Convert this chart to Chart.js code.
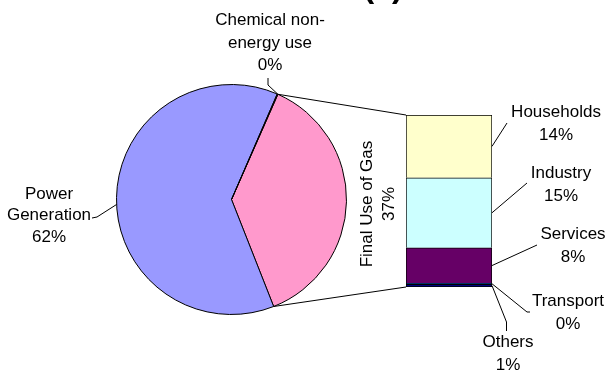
<!DOCTYPE html>
<html>
<head>
<meta charset="utf-8">
<script src="https://cdn.jsdelivr.net/npm/chart.js@4"></script>
<style>
  body { margin: 0; background: #fff; }
  #wrap { position: relative; width: 608px; height: 371px; }
  canvas { position: absolute; left: 0; top: 0; }
</style>
</head>
<body>
<div id="wrap">
  <canvas id="pie" width="608" height="371"></canvas>
  <canvas id="bar" width="608" height="371"></canvas>
</div>
<script>
// main pie: final use is the sum of the bar parts
const useLabels = ["Households", "Industry", "Services", "Transport", "Others"];
const useValues = [13.6, 15.2, 7.7, 0.2, 0.6];
const powerValue = 62.3;
const chemicalValue = 0.1;

const finalUse = useValues.reduce((a, b) => a + b, 0);
const pieLabels = ["Final Use of Gas", "Power Generation", "Chemical non-energy use"];
const pieValues = [finalUse, powerValue, chemicalValue];
const total = pieValues.reduce((a, b) => a + b, 0);

const pieColors = ["#FF99CC", "#9999FF", "#993366"];
const useColors = ["#FFFFCC", "#CCFFFF", "#660066", "#0066CC", "#000080"];

const FONT = '17px "Liberation Sans", Arial, sans-serif';
const pct = v => Math.round(v / total * 100) + "%";

const pieChart = new Chart(document.getElementById("pie"), {
  type: "pie",
  data: {
    labels: pieLabels,
    datasets: [{
      data: pieValues,
      backgroundColor: pieColors,
      borderColor: "#000",
      borderWidth: 1
    }]
  },
  options: {
    responsive: false,
    animation: false,
    rotation: 23.8,
    layout: { padding: { left: 116, right: 261, top: 84, bottom: 56 } },
    plugins: { legend: { display: false }, tooltip: { enabled: false } }
  }
});

// label spots for the bar parts (first baseline, leader start)
const barSpots = [
  { x: 556, y: 117, from: [[507, 123]] },
  { x: 561, y: 178, from: [[527, 183]] },
  { x: 573, y: 239, from: [[537, 245]] },
  { x: 568, y: 306, from: [[530, 312], [527, 312]] },
  { x: 508, y: 347, from: [[506.5, 331], [506.5, 322]] }
];

function lines(ctx, list, cx, y0, lh) {
  list.forEach((t, i) => ctx.fillText(t, cx, y0 + i * lh));
}

function path(ctx, pts) {
  ctx.beginPath();
  ctx.moveTo(pts[0][0], pts[0][1]);
  for (let i = 1; i < pts.length; i++) ctx.lineTo(pts[i][0], pts[i][1]);
  ctx.stroke();
}

function arcPoint(a, ang) {
  return [a.x + a.outerRadius * Math.cos(ang), a.y + a.outerRadius * Math.sin(ang)];
}

const labelPlugin = {
  id: "labels",
  afterDraw(chart) {
    const ctx = chart.ctx;
    const arcs = pieChart.getDatasetMeta(0).data;
    const n = useLabels.length;
    const seg = i => chart.getDatasetMeta(n - 1 - i).data[0];

    ctx.save();
    ctx.strokeStyle = "#000";
    ctx.lineWidth = 1;
    ctx.fillStyle = "#000";
    ctx.font = FONT;
    ctx.textAlign = "center";
    ctx.textBaseline = "alphabetic";

    // connectors pie -> bar
    const pink = arcs[0];
    const top = seg(0), bottom = seg(n - 1);
    path(ctx, [arcPoint(pink, pink.startAngle), [top.x - top.width / 2, top.y]]);
    path(ctx, [arcPoint(pink, pink.endAngle), [bottom.x - bottom.width / 2, bottom.base]]);

    // pie labels
    const chem = arcs[2];
    path(ctx, [[268, 78], [268, 85], arcPoint(chem, chem.endAngle)]);
    lines(ctx, ["Chemical non-", "energy use", pct(pieValues[2])], 270, 25, 22.5);

    const power = arcs[1];
    const mid = (power.startAngle + power.endAngle) / 2 - 0.06;
    path(ctx, [[92, 218], [97, 217], arcPoint(power, mid)]);
    lines(ctx, ["Power", "Generation", pct(pieValues[1])], 49, 198.5, 21.7);

    // final use label, rotated
    ctx.save();
    ctx.translate(378, 204);
    ctx.rotate(-Math.PI / 2);
    ctx.textBaseline = "middle";
    ctx.fillText(pieLabels[0], 0, -10.5);
    ctx.fillText(pct(pieValues[0]), 0, 11);
    ctx.restore();

    // bar labels
    useLabels.forEach((name, i) => {
      const el = seg(i);
      const s = barSpots[i];
      const end = [el.x + el.width / 2, (el.y + el.base) / 2];
      path(ctx, s.from.concat([end]));
      lines(ctx, [name, pct(useValues[i])], s.x, s.y, 22.5);
    });

    // panel title, mostly cut off at top
    ctx.font = 'bold 32px "Liberation Sans", Arial, sans-serif';
    ctx.fillText("(a)", 383, -3);
    ctx.restore();
  }
};

new Chart(document.getElementById("bar"), {
  type: "bar",
  data: {
    labels: ["Final Use of Gas"],
    datasets: useLabels.map((name, i) => ({
      label: name,
      data: [useValues[i]],
      backgroundColor: useColors[i],
      borderColor: "#000",
      borderWidth: { left: 1, right: 1, top: 1, bottom: i === useLabels.length - 1 ? 1 : 0 },
      borderSkipped: false,
      barPercentage: 1,
      categoryPercentage: 1
    })).reverse()
  },
  options: {
    responsive: false,
    animation: false,
    layout: { padding: { left: 406, right: 116, top: 115, bottom: 84 } },
    scales: {
      x: { stacked: true, display: false },
      y: { stacked: true, display: false, min: 0, max: finalUse }
    },
    plugins: { legend: { display: false }, tooltip: { enabled: false } }
  },
  plugins: [labelPlugin]
});
</script>
</body>
</html>
